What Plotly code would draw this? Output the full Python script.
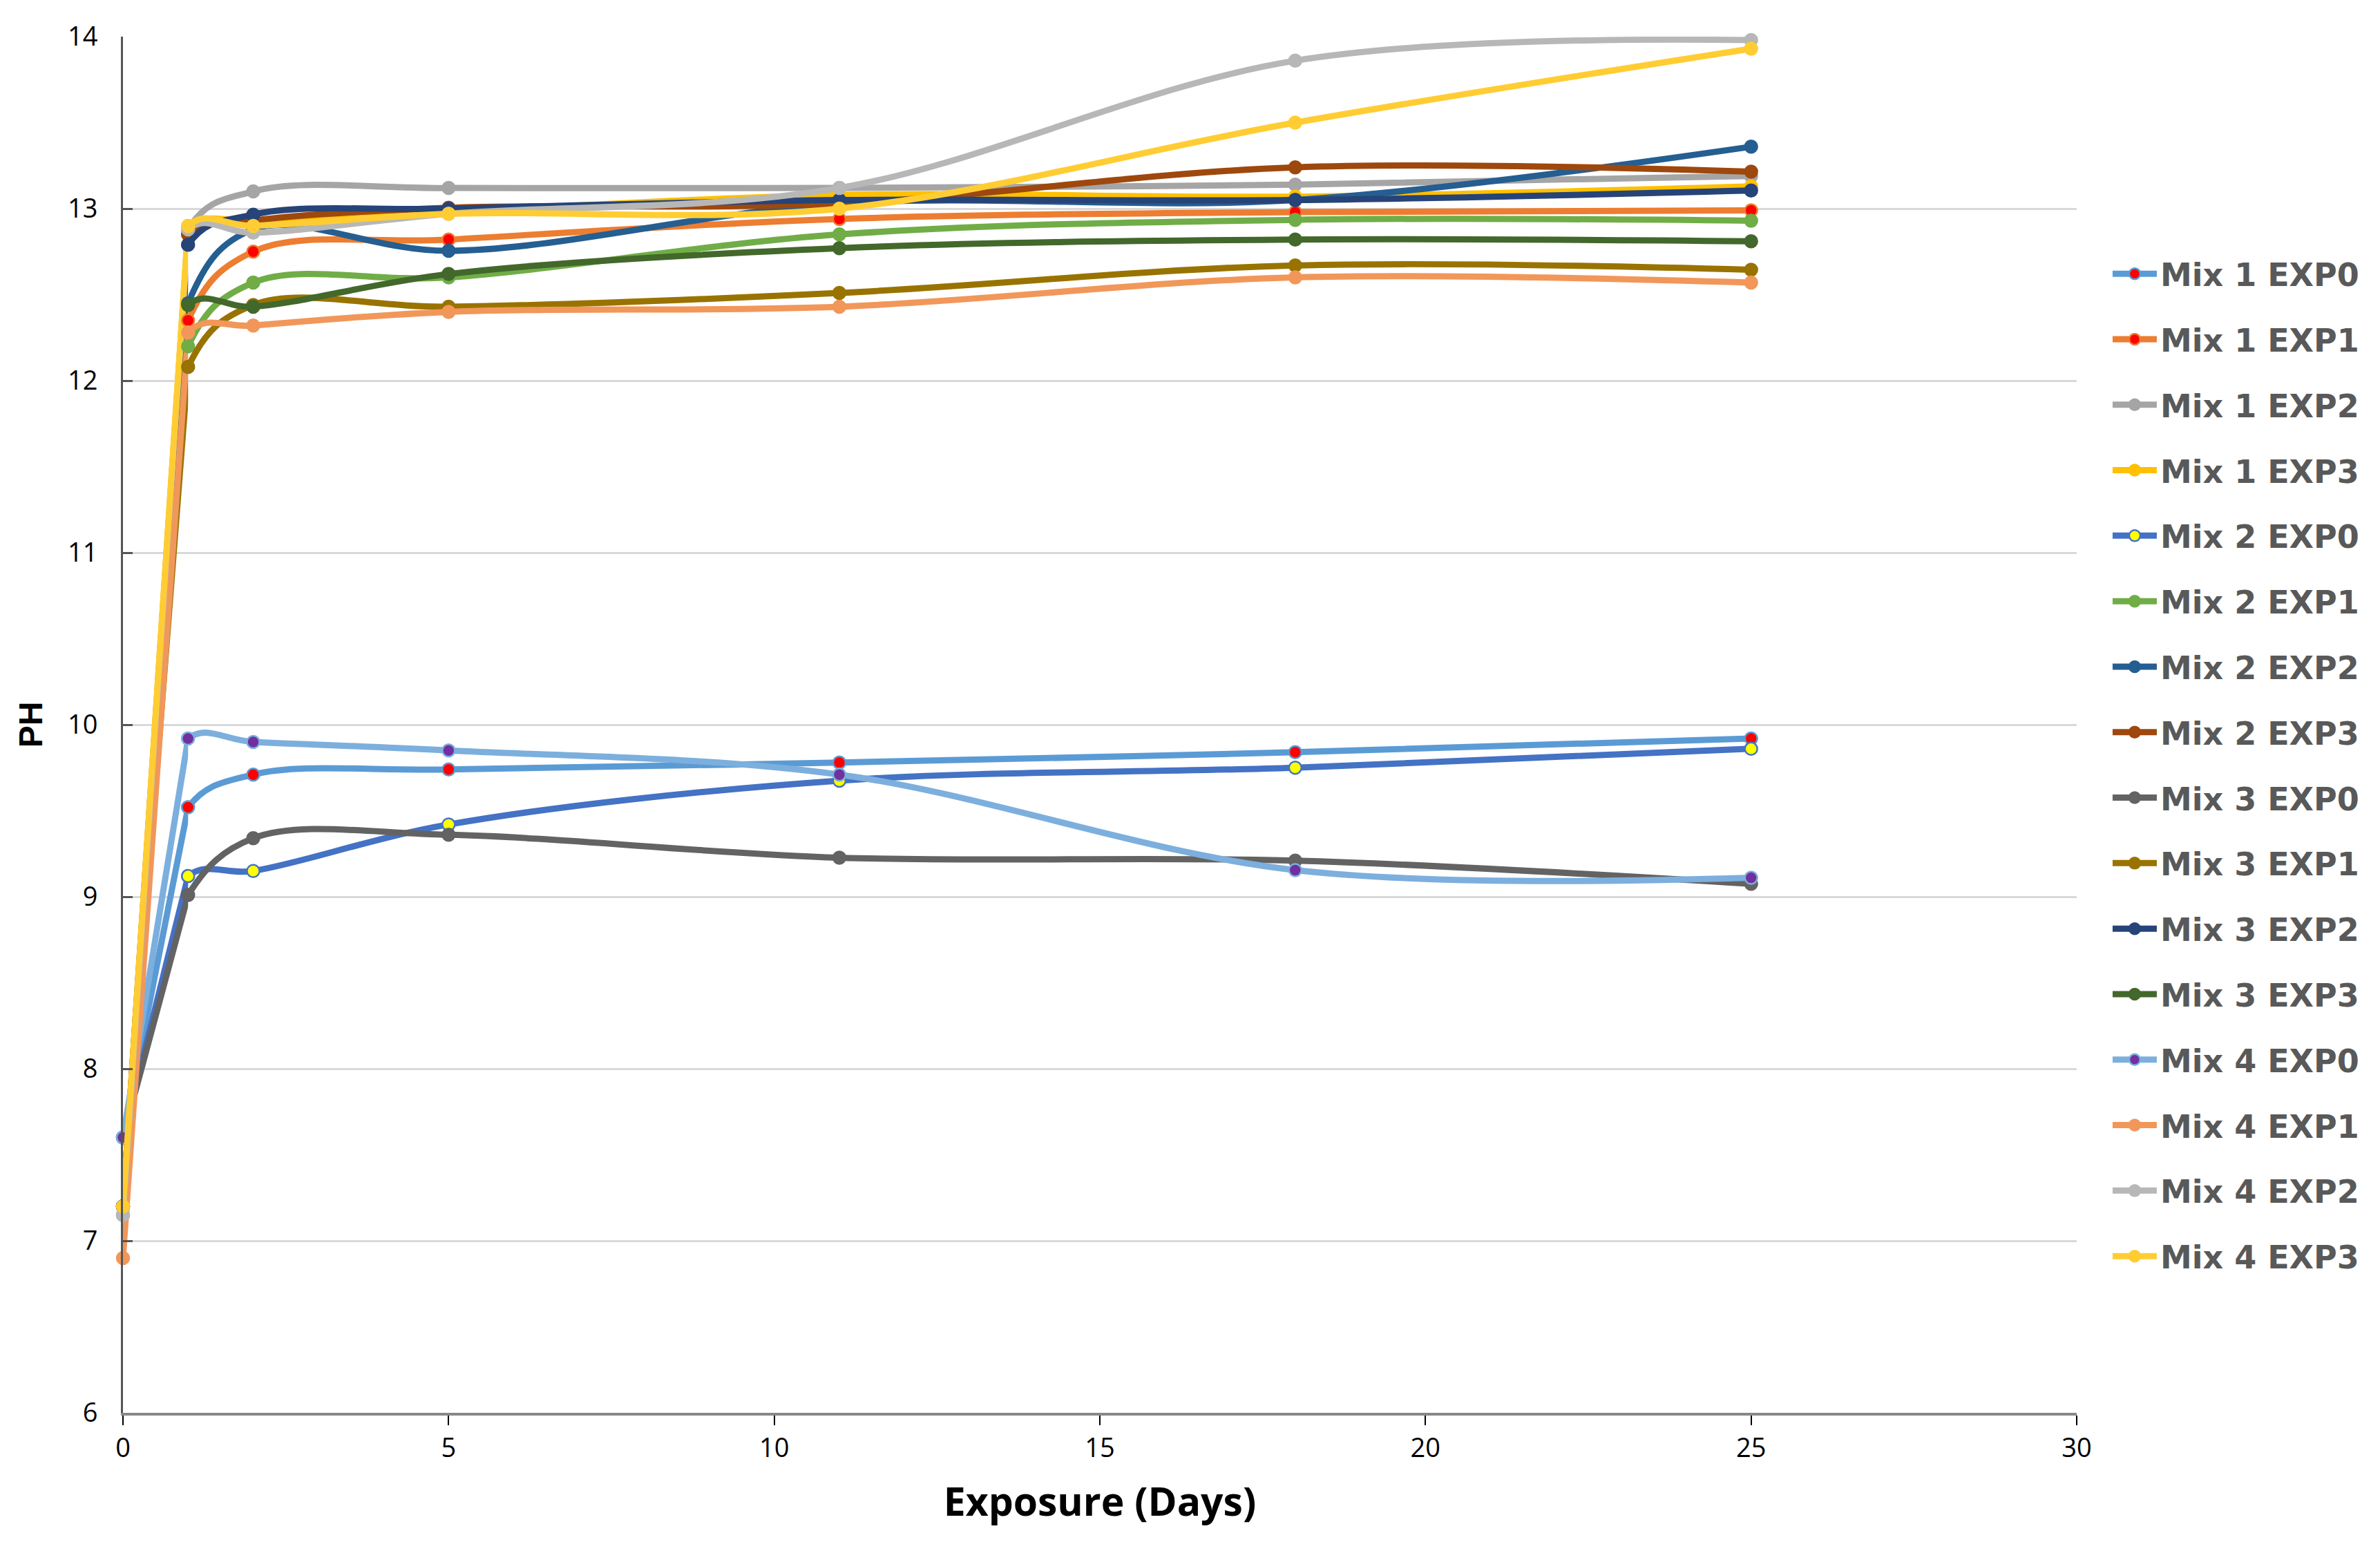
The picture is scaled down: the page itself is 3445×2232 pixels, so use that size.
import plotly.graph_objects as go

days = [0, 1, 2, 5, 11, 18, 25]

series_names = [
    "Mix 1 EXP0", "Mix 1 EXP1", "Mix 1 EXP2", "Mix 1 EXP3",
    "Mix 2 EXP0", "Mix 2 EXP1", "Mix 2 EXP2", "Mix 2 EXP3",
    "Mix 3 EXP0", "Mix 3 EXP1", "Mix 3 EXP2", "Mix 3 EXP3",
    "Mix 4 EXP0", "Mix 4 EXP1", "Mix 4 EXP2", "Mix 4 EXP3",
]

mix1_exp0 = [7.60, 9.52, 9.71, 9.74, 9.78, 9.84, 9.92]
mix1_exp1 = [7.20, 12.35, 12.75, 12.82, 12.94, 12.98, 12.99]
mix1_exp2 = [7.15, 12.88, 13.10, 13.12, 13.12, 13.14, 13.19]
mix1_exp3 = [7.20, 12.88, 12.93, 12.98, 13.08, 13.07, 13.13]
mix2_exp0 = [7.60, 9.12, 9.15, 9.42, 9.675, 9.75, 9.86]
mix2_exp1 = [7.20, 12.20, 12.57, 12.60, 12.85, 12.935, 12.93]
mix2_exp2 = [7.20, 12.45, 12.88, 12.755, 13.03, 13.05, 13.36]
mix2_exp3 = [7.20, 12.85, 12.93, 13.005, 13.03, 13.24, 13.215]
mix3_exp0 = [7.60, 9.01, 9.34, 9.36, 9.227, 9.21, 9.075]
mix3_exp1 = [7.20, 12.08, 12.44, 12.43, 12.51, 12.67, 12.645]
mix3_exp2 = [7.20, 12.79, 12.965, 13.00, 13.05, 13.05, 13.105]
mix3_exp3 = [7.20, 12.44, 12.43, 12.62, 12.77, 12.82, 12.81]
mix4_exp0 = [7.60, 9.92, 9.90, 9.85, 9.71, 9.155, 9.11]
mix4_exp1 = [6.90, 12.28, 12.32, 12.40, 12.43, 12.60, 12.57]
mix4_exp2 = [7.15, 12.88, 12.86, 12.97, 13.12, 13.86, 13.98]
mix4_exp3 = [7.20, 12.90, 12.90, 12.97, 13.00, 13.50, 13.93]

series_values = [
    mix1_exp0, mix1_exp1, mix1_exp2, mix1_exp3,
    mix2_exp0, mix2_exp1, mix2_exp2, mix2_exp3,
    mix3_exp0, mix3_exp1, mix3_exp2, mix3_exp3,
    mix4_exp0, mix4_exp1, mix4_exp2, mix4_exp3,
]

line_colors = [
    "#5B9BD5", "#ED7D31", "#A5A5A5", "#FFC000",
    "#4472C4", "#70AD47", "#255E91", "#9E480E",
    "#636363", "#997300", "#264478", "#43682B",
    "#7CAFDD", "#F1975A", "#B7B7B7", "#FFCD33",
]
marker_fills = [
    "#FF0000", "#FF0000", "#A5A5A5", "#FFC000",
    "#FFFF00", "#70AD47", "#255E91", "#9E480E",
    "#636363", "#997300", "#264478", "#43682B",
    "#7030A0", "#F1975A", "#B7B7B7", "#FFCD33",
]

x_ticks = [0, 5, 10, 15, 20, 25, 30]
y_ticks = [6, 7, 8, 9, 10, 11, 12, 13, 14]
x_range = [0, 30]

LINE_W = 9
MARKER_SIZE = 18

fig = go.Figure()
# Steep first leg (day 0 -> day 1) drawn straight on the main axes, with the day-0 markers
for i, (name, vals) in enumerate(zip(series_names, series_values)):
    fig.add_trace(go.Scatter(
        x=days[:2], y=vals[:2], mode="lines+markers", legendgroup=name, showlegend=False,
        line=dict(color=line_colors[i], width=LINE_W),
        marker=dict(size=MARKER_SIZE, color=marker_fills[i],
                    line=dict(color=line_colors[i], width=2.5)),
        cliponaxis=False, hoverinfo="skip",
        xaxis="x", yaxis="y",
    ))
# Smoothed curve over all points on a companion x axis whose plot area starts at day 1
for i, (name, vals) in enumerate(zip(series_names, series_values)):
    fig.add_trace(go.Scatter(
        x=days, y=vals, name=name, mode="lines+markers",
        legendgroup=name,
        line=dict(color=line_colors[i], width=LINE_W, shape="spline", smoothing=1.0),
        marker=dict(size=MARKER_SIZE, color=marker_fills[i],
                    line=dict(color=line_colors[i], width=2.5)),
        cliponaxis=False,
        xaxis="x2", yaxis="y",
    ))

tick_font = dict(family="Liberation Sans Narrow, Open Sans, sans-serif", size=38, color="#000000")
span = x_range[1] - x_range[0]

fig.update_layout(
    width=3445, height=2232,
    margin=dict(l=170, r=447, t=45, b=195, autoexpand=False),
    plot_bgcolor="white", paper_bgcolor="white",
    showlegend=True,
    legend=dict(
        x=1.0166, y=0.846, xanchor="left", yanchor="top",
        font=dict(family="DejaVu Sans", size=46, color="#595959", weight="bold"),
        tracegroupgap=32, traceorder="grouped",
        bgcolor="rgba(0,0,0,0)", itemwidth=64,
    ),
    xaxis=dict(
        range=x_range, domain=[0, 1], anchor="y",
        tickvals=x_ticks, ticktext=[str(v) for v in x_ticks],
        showgrid=False, zeroline=False,
        showline=True, linecolor="#888888", linewidth=4,
        ticks="outside", ticklen=14, tickwidth=2, tickcolor="#000000",
        tickfont=tick_font,
        title=dict(text="Exposure (Days)", standoff=36,
                   font=dict(family="Liberation Sans Narrow, Open Sans, sans-serif", size=57,
                             color="#000000", weight="bold")),
        automargin=False,
    ),
    xaxis2=dict(
        range=[days[1], x_range[1]],
        domain=[(days[1] - x_range[0]) / span, 1],
        anchor="y", visible=False, showgrid=False, zeroline=False,
    ),
    yaxis=dict(
        range=[6, 14], anchor="x", tickvals=y_ticks, ticktext=[str(v) for v in y_ticks],
        showgrid=True, gridcolor="#D9D9D9", gridwidth=3, zeroline=False,
        showline=True, linecolor="#555555", linewidth=3,
        ticks="inside", ticklen=14, tickwidth=3, tickcolor="#555555",
        tickfont=tick_font, ticklabelstandoff=26,
        title=dict(text="PH", standoff=22,
                   font=dict(family="Liberation Sans, Arial, sans-serif", size=48,
                             color="#000000", weight="bold")),
        automargin=False,
    ),
)

fig.write_html("out.html")
